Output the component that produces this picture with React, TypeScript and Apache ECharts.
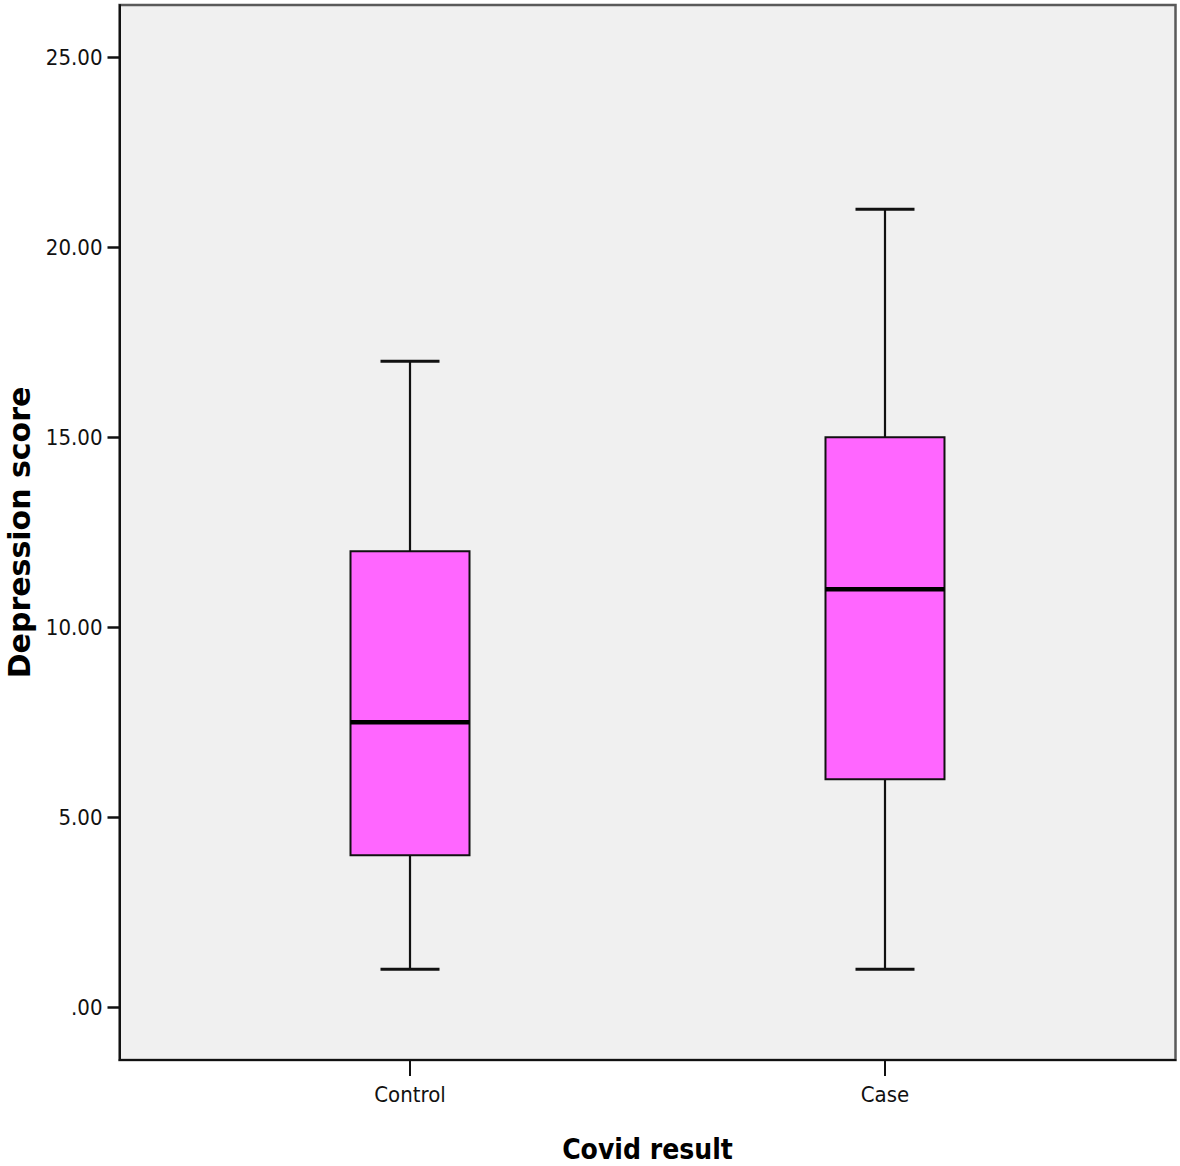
import React, { useEffect, useRef } from "react";
import * as echarts from "echarts";

const categories = ["Control", "Case"];
const whiskerLow = [1, 1];
const quartile1 = [4, 6];
const medians = [7.5, 11];
const quartile3 = [12, 15];
const whiskerHigh = [17, 21];
const yTickValues = [0, 5, 10, 15, 20, 25];
const xTickValues = [0, 1];

export default function App() {
  const ref = useRef<HTMLDivElement>(null);
  useEffect(() => {
    if (!ref.current) return;
    const chart = echarts.init(ref.current, null, { renderer: "svg" });
    const data = categories.map((_, i) => [
      i,
      whiskerLow[i],
      quartile1[i],
      medians[i],
      quartile3[i],
      whiskerHigh[i],
    ]);
    const tickFont = "'Liberation Sans Narrow', 'DejaVu Sans Condensed', Arial, sans-serif";
    chart.setOption({
      animation: false,
      backgroundColor: "#ffffff",
      grid: {
        left: 119.5,
        top: 5,
        width: 1056,
        height: 1055,
        show: true,
        backgroundColor: "#f0f0f0",
        borderColor: "#5a5a5a",
        borderWidth: 2.5,
        outerBoundsMode: "none",
        containLabel: false,
      },
      xAxis: {
        type: "value",
        min: -0.6116,
        max: 1.6116,
        splitLine: { show: false },
        axisLine: { show: true, onZero: false, lineStyle: { color: "#111", width: 2 } },
        axisTick: {
          show: true,
          customValues: xTickValues,
          length: 16,
          lineStyle: { color: "#111", width: 2 },
        },
        axisLabel: {
          customValues: xTickValues,
          formatter: (v: number) => categories[Math.round(v)] ?? "",
          color: "#111",
          fontFamily: tickFont,
          fontSize: 22,
          margin: 23,
        },
        name: "Covid result",
        nameLocation: "middle",
        nameGap: 75,
        nameTextStyle: {
          color: "#000",
          fontFamily: "'DejaVu Sans Condensed', 'Liberation Sans', Arial, sans-serif",
          fontWeight: "bold",
          fontSize: 28,
        },
      },
      yAxis: {
        type: "value",
        min: -1.387,
        max: 26.376,
        splitLine: { show: false },
        axisLine: { show: true, onZero: false, lineStyle: { color: "#111", width: 2 } },
        axisTick: {
          show: true,
          customValues: yTickValues,
          length: 12,
          lineStyle: { color: "#111", width: 2.5 },
        },
        axisLabel: {
          customValues: yTickValues,
          formatter: (v: number) => (v === 0 ? ".00" : v.toFixed(2)),
          color: "#111",
          fontFamily: tickFont,
          fontSize: 22,
          margin: 17,
        },
        name: "Depression score",
        nameLocation: "middle",
        nameGap: 85,
        nameTextStyle: {
          color: "#000",
          fontFamily: "'DejaVu Sans', 'Open Sans', Arial, sans-serif",
          fontWeight: "bold",
          fontSize: 30,
        },
      },
      series: [
        {
          type: "custom",
          data,
          encode: { x: 0, y: [1, 2, 3, 4, 5] },
          renderItem: (params: any, api: any) => {
            const x = api.value(0);
            const pt = (v: number) => api.coord([x, v]);
            const lo = pt(api.value(1));
            const b1 = pt(api.value(2));
            const md = pt(api.value(3));
            const b3 = pt(api.value(4));
            const hi = pt(api.value(5));
            const cx = md[0];
            const boxHalf = 59.5;
            const capHalf = 29.5;
            const lineStyle = { stroke: "#111", lineWidth: 2.2 };
            return {
              type: "group",
              children: [
                { type: "line", shape: { x1: cx, y1: lo[1], x2: cx, y2: b1[1] }, style: lineStyle },
                { type: "line", shape: { x1: cx, y1: b3[1], x2: cx, y2: hi[1] }, style: lineStyle },
                { type: "line", shape: { x1: cx - capHalf, y1: lo[1], x2: cx + capHalf, y2: lo[1] }, style: { stroke: "#111", lineWidth: 3 } },
                { type: "line", shape: { x1: cx - capHalf, y1: hi[1], x2: cx + capHalf, y2: hi[1] }, style: { stroke: "#111", lineWidth: 3 } },
                {
                  type: "rect",
                  shape: { x: cx - boxHalf, y: b3[1], width: boxHalf * 2, height: b1[1] - b3[1] },
                  style: { fill: "#ff66ff", stroke: "#111", lineWidth: 2 },
                },
                { type: "line", shape: { x1: cx - boxHalf, y1: md[1], x2: cx + boxHalf, y2: md[1] }, style: { stroke: "#000", lineWidth: 4.5 } },
              ],
            };
          },
        },
      ],
    });
    return () => chart.dispose();
  }, []);
  return (
    <div
      ref={ref}
      style={{ position: "absolute", left: 0, top: 0, width: 1180, height: 1166 }}
    />
  );
}
